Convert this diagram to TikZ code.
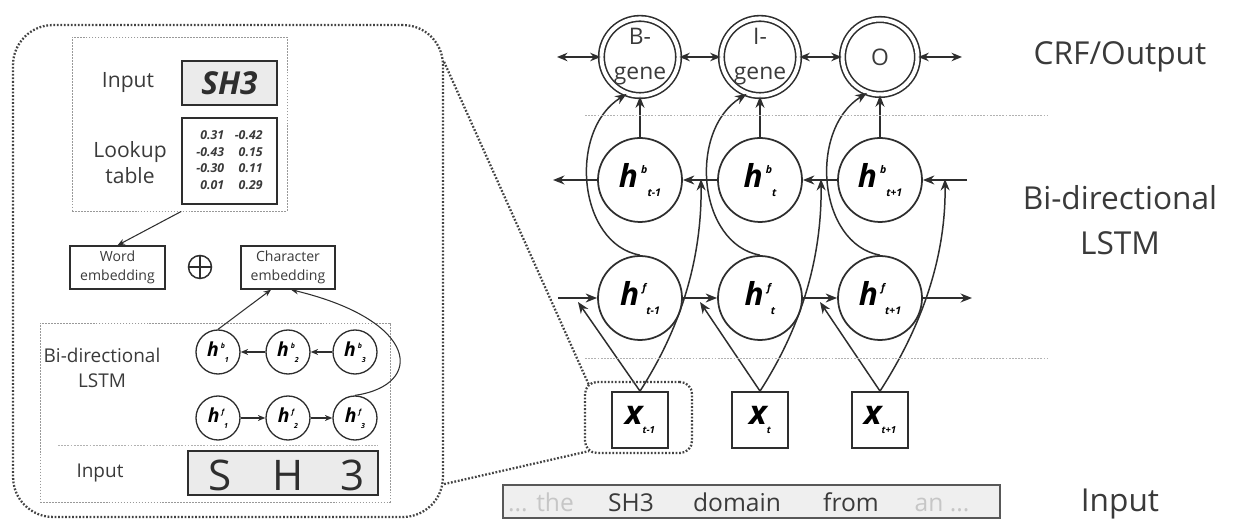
\documentclass[tikz,border=0pt]{standalone}
\usepackage{fontspec}
\setmainfont{Open Sans}
\usetikzlibrary{arrows.meta,calc}
\definecolor{lncol}{HTML}{2E2E2E}
\definecolor{txt}{HTML}{3A3A3A}
\definecolor{boxfill}{HTML}{EBEBEB}
\definecolor{faint}{HTML}{C6C6C6}
\newcommand{\fsz}[2]{\fontsize{#1}{#2}\selectfont}
\newcommand{\hlab}[3]{{\bfseries\itshape h}\kern0.1em\raisebox{0.42em}{\fsz{#3}{#3}\bfseries\itshape #1}\raisebox{-0.3em}{\fsz{#3}{#3}\bfseries\itshape #2}}
\newcommand{\xlab}[1]{{\bfseries\itshape x}\raisebox{-0.25em}{\fsz{5.5}{5.5}\bfseries\itshape #1}}

\begin{document}
\begin{tikzpicture}[x=0.02cm,y=0.02cm,
  wire/.style={draw=lncol,line width=0.85pt},
  arr/.style={wire,-{Stealth[length=2.3mm,width=1.8mm]}},
  sarr/.style={wire,line width=0.6pt,-{Stealth[length=1.5mm,width=1.2mm]}},
  darr/.style={wire,{Stealth[length=2.1mm,width=1.7mm]}-{Stealth[length=2.1mm,width=1.7mm]}},
  hnode/.style={circle,wire,line width=1pt,minimum size=1.68cm,inner sep=0,font=\fsz{18}{18}},
  onode/.style={circle,draw=lncol,line width=0.9pt,double,double distance=0.8mm,minimum size=1.5cm,inner sep=0,text=txt,align=center,font=\fsz{13}{20}},
  xnode/.style={rectangle,wire,line width=1pt,minimum size=1.12cm,inner sep=0,font=\fsz{19}{19}},
  lnode/.style={circle,wire,line width=0.75pt,minimum size=0.88cm,inner sep=0,font=\fsz{11}{11}},
  lbl/.style={text=txt,inner sep=0,align=center},
  sep/.style={draw=gray!60,line width=0.5pt,dash pattern=on 1pt off 0.8pt},
  grp/.style={draw=gray!80,line width=0.5pt,dash pattern=on 1pt off 0.7pt,inner sep=0},
  zoomln/.style={draw=lncol!90,line width=1.3pt,dash pattern=on 1pt off 1pt,inner sep=0},
  gbox/.style={rectangle,wire,line width=0.9pt,fill=boxfill,inner sep=0},
  wbox/.style={rectangle,wire,line width=0.8pt,inner sep=0,text=txt,align=center,font=\fsz{8}{10.5}}]

  \useasboundingbox (0,0) rectangle (1238,520);

  \node[onode] (o1) at (640,463) {B-\\gene};
  \node[onode] (o2) at (760,463) {I-\\gene};
  \node[onode] (o3) at (880,463) {O};
  \foreach \i/\xx/\s in {1/640/t-1,2/760/t,3/880/t+1} {
    \node[hnode] (hb\i) at (\xx,340) {\hlab{b}{\s}{6}};
    \node[hnode] (hf\i) at (\xx,222) {\hlab{f}{\s}{6}};
    \node[xnode] (x\i) at (\xx,100) {\xlab{\s}};
  }
  \coordinate (olft) at (557,463); \coordinate (orgt) at (962,463);
  \coordinate (hbl) at (553,340); \coordinate (hbr) at (967,340);
  \coordinate (hfl) at (558,222); \coordinate (hfr) at (972,222);
  \coordinate (fi1) at (578,218); \coordinate (fi2) at (700,218); \coordinate (fi3) at (820,218);
  \coordinate (bi1) at (701,341); \coordinate (bi2) at (821,341); \coordinate (bi3) at (945,341);

  \draw[darr] (olft) -- (o1); \draw[darr] (o1) -- (o2);
  \draw[darr] (o2) -- (o3); \draw[darr] (o3) -- (orgt);
  \draw[arr] (hbr) -- (hb3); \draw[arr] (hb3) -- (hb2);
  \draw[arr] (hb2) -- (hb1); \draw[arr] (hb1) -- (hbl);
  \draw[arr] (hfl) -- (hf1); \draw[arr] (hf1) -- (hf2);
  \draw[arr] (hf2) -- (hf3); \draw[arr] (hf3) -- (hfr);
  \foreach \i in {1,2,3} {
    \draw[arr] (hb\i) -- (o\i);
    \draw[arr] (hf\i.north) .. controls +(-62,11) and +(-59,-37) .. (o\i.250);
    \draw[arr] (x\i.north) -- (fi\i);
    \draw[arr] (x\i.north) .. controls +(40,62) and +(1,-81) .. (bi\i);
  }
  \draw[sep] (585,405) -- (1047,405);
  \draw[sep] (585,162) -- (1047,162);

  \node[lbl,font=\fsz{18}{26},anchor=base] (crf) at (1120,455) {CRF/Output};
  \node[lbl,font=\fsz{18}{26}] (blstm) at (1120,300) {Bi-directional\\LSTM};
  \node[lbl,font=\fsz{18}{26},anchor=base] (inp) at (1120,8) {Input};

  \node[rectangle,draw=lncol!80,line width=0.9pt,fill=boxfill!80,minimum width=9.94cm,minimum height=0.66cm] (bar) at (751.5,18.5) {};
  \node[lbl,anchor=base,text=faint,font=\fsz{14}{14}] (w1) at (541,8) {... the};
  \node[lbl,anchor=base,font=\fsz{14}{14}] (w2) at (631,8) {SH3};
  \node[lbl,anchor=base,font=\fsz{14}{14}] (w3) at (737,8) {domain};
  \node[lbl,anchor=base,font=\fsz{14}{14}] (w4) at (851,8) {from};
  \node[lbl,anchor=base,text=faint,font=\fsz{14}{14}] (w5) at (942,8) {an ...};

  \node[zoomln,rounded corners=0.24cm,minimum width=2.14cm,minimum height=1.42cm] (zb) at (638.5,102.5) {};
  \node[zoomln,rounded corners=0.8cm,minimum width=8.6cm,minimum height=9.84cm] (pnl) at (228,249) {};
  \draw[zoomln] ($(pnl.north east)+(0,-38)$) -- ($(zb.north west)+(5,-4)$);
  \draw[zoomln] ($(pnl.south east)+(0,34)$) -- ($(zb.south west)+(5,3)$);

  \node[grp,minimum width=4.3cm,minimum height=3.48cm] (g1) at (179.5,396) {};
  \node[lbl,font=\fsz{12}{14.7},anchor=base] (inlab) at (128,432) {Input};
  \node[gbox,minimum width=1.9cm,minimum height=0.88cm,font=\fsz{18}{18}\bfseries\itshape,text=lncol] (sh) at (229.5,437) {SH3};
  \node[lbl,font=\fsz{12}{14.7}] (lklab) at (130,357) {Lookup\\table};
  \node[wbox,minimum width=1.9cm,minimum height=1.72cm,font=\fsz{7}{9.4}\bfseries\itshape] (lk) at (229.5,359)
    {\begin{tabular}{@{}r@{\hspace{6pt}}r@{}}0.31 & -0.42\\ -0.43 & 0.15\\ -0.30 & 0.11\\ 0.01 & 0.29\end{tabular}};
  \node[wbox,minimum width=1.9cm,minimum height=0.86cm] (we) at (117.5,252.5) {Word\\embedding};
  \node[circle,wire,minimum size=0.46cm,inner sep=0,path picture={\draw[wire] (path picture bounding box.north) -- (path picture bounding box.south) (path picture bounding box.west) -- (path picture bounding box.east);}] (plus) at (200,253) {};
  \node[wbox,minimum width=1.88cm,minimum height=0.86cm] (ce) at (288,252.5) {Character\\embedding};
  \draw[sarr] (lk.south west |- g1.south) -- (we.north);

  \node[grp,minimum width=7cm,minimum height=3.58cm] (g2) at (215,107.5) {};
  \node[lbl,font=\fsz{10.8}{14}] (lstmlab) at (102,152) {Bi-directional\\LSTM};
  \foreach \i/\xx in {1/218,2/288,3/355} {
    \node[lnode] (lb\i) at (\xx,168) {\hlab{b}{\i}{4}};
    \node[lnode] (lf\i) at (\xx,102) {\hlab{f}{\i}{4}};
  }
  \draw[sarr] (lb3) -- (lb2); \draw[sarr] (lb2) -- (lb1);
  \draw[sarr] (lf1) -- (lf2); \draw[sarr] (lf2) -- (lf3);
  \draw[sarr] (lb1.north) -- ($(ce.south)+(-17,0)$);
  \draw[sarr] (lf3.north) .. controls +(70,10) and +(129,-31) .. ($(ce.south)+(3,0)$);
  \draw[sep] (58,75) -- (378,75);
  \node[gbox,minimum width=3.8cm,minimum height=0.88cm] (ib) at (283,47) {};
  \node[lbl,font=\fsz{24}{24},text=lncol] (cS) at (220,45) {S};
  \node[lbl,font=\fsz{24}{24},text=lncol] (cH) at (288,45) {H};
  \node[lbl,font=\fsz{24}{24},text=lncol] (c3) at (353,45) {3};
  \node[lbl,font=\fsz{10.8}{14},anchor=base] (inlab2) at (100,42) {Input};
\end{tikzpicture}
\end{document}
